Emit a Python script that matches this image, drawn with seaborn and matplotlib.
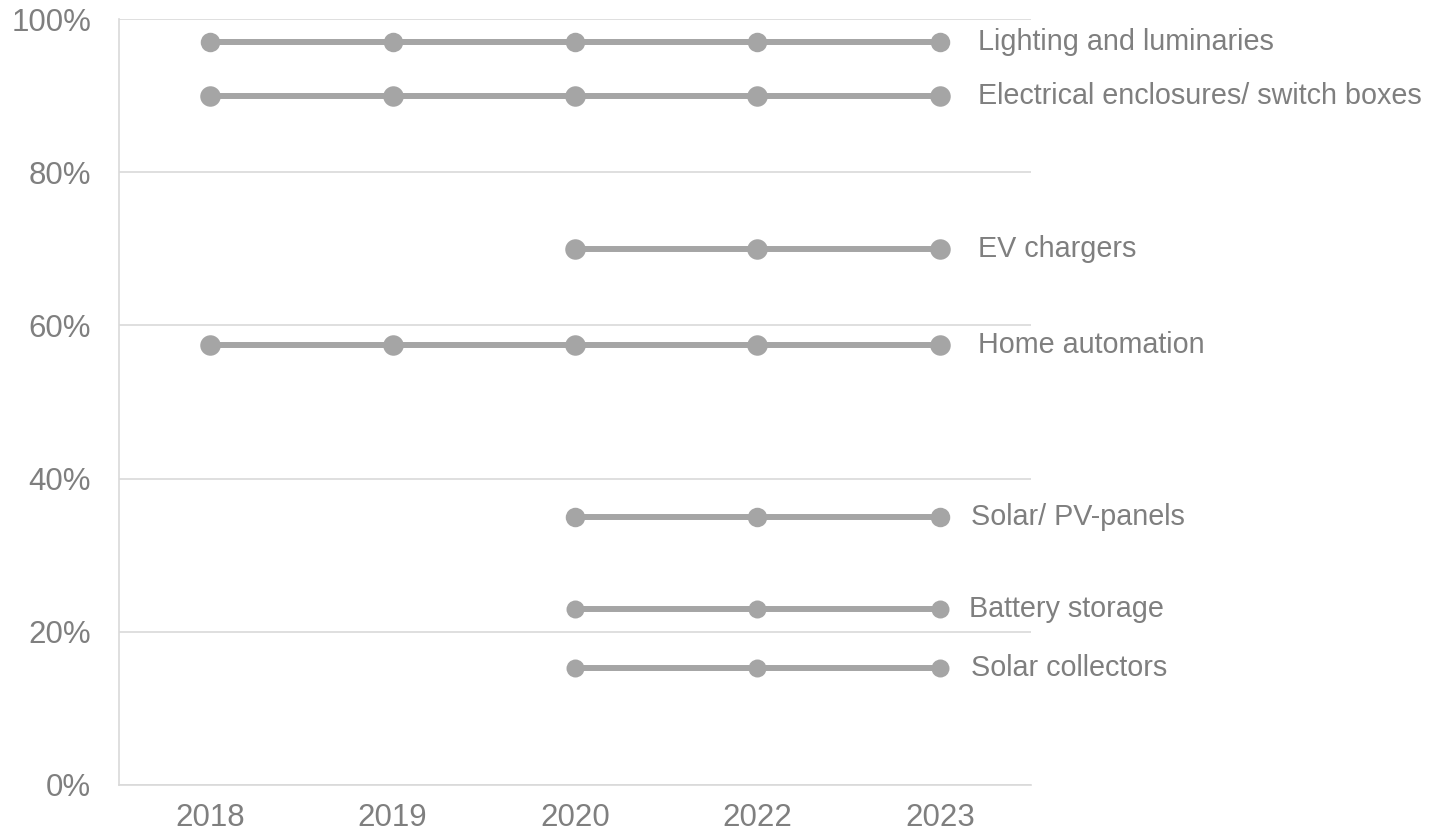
import matplotlib
matplotlib.use("Agg")
import matplotlib.pyplot as plt
import seaborn as sns
import pandas as pd
from matplotlib.ticker import FixedLocator, PercentFormatter

years = ["2018", "2019", "2020", "2022", "2023"]

series_names = [
    "Lighting and luminaries",
    "Electrical enclosures/ switch boxes",
    "EV chargers",
    "Home automation",
    "Solar/ PV-panels",
    "Battery storage",
    "Solar collectors",
]
lighting = [97, 97, 97, 97, 97]
enclosures = [90, 90, 90, 90, 90]
ev_chargers = [None, None, 70, 70, 70]
home_automation = [57.4, 57.4, 57.4, 57.4, 57.4]
solar_pv = [None, None, 35, 35, 35]
battery = [None, None, 23, 23, 23]
collectors = [None, None, 15.3, 15.3, 15.3]
all_values = [lighting, enclosures, ev_chargers, home_automation, solar_pv, battery, collectors]

rows = []
for name, vals in zip(series_names, all_values):
    for yr, v in zip(years, vals):
        if v is not None:
            rows.append({"series": name, "year": yr, "pos": years.index(yr), "value": v})
df = pd.DataFrame(rows)

sns.set_theme(style="white")
plt.rcParams["font.family"] = ["Liberation Sans", "DejaVu Sans"]

GRAY = "#A5A5A5"
TXT = "#7F7F7F"
GRID = "#D9D9D9"

fig = plt.figure(figsize=(14.35, 8.39), dpi=100)
ax = fig.add_axes([119 / 1435, 1 - 785 / 839, (1031 - 119) / 1435, (785 - 19) / 839])

# marker diameters (px)
msizes = {
    "Lighting and luminaries": 19.5,
    "Electrical enclosures/ switch boxes": 20.5,
    "EV chargers": 20.5,
    "Home automation": 20.5,
    "Solar/ PV-panels": 19.5,
    "Battery storage": 18,
    "Solar collectors": 18,
}
# label offsets (px)
label_dx = {
    "Lighting and luminaries": 38,
    "Electrical enclosures/ switch boxes": 38,
    "EV chargers": 38,
    "Home automation": 38,
    "Solar/ PV-panels": 31,
    "Battery storage": 29,
    "Solar collectors": 31,
}

for name in series_names:
    sub = df[df["series"] == name]
    sns.lineplot(data=sub, x="pos", y="value", ax=ax, color=GRAY, linewidth=4.3,
                 marker="o", markersize=msizes[name] * 0.72, markeredgewidth=0,
                 markerfacecolor=GRAY, zorder=3)
    last = sub.iloc[-1]
    ax.annotate(name, xy=(last["pos"], last["value"]), xytext=(label_dx[name] * 0.72, 0),
                textcoords="offset points", va="center", ha="left",
                fontsize=20.7, color=TXT, annotation_clip=False)

ax.set_xlim(-0.5, len(years) - 0.5)
ax.set_ylim(0, 100)
ax.set_xticks(range(len(years)))
ax.set_xticklabels(years)
ax.xaxis.set_minor_locator(FixedLocator([i + 0.5 for i in range(len(years))]))
ax.set_yticks([0, 20, 40, 60, 80, 100])
ax.yaxis.set_major_formatter(PercentFormatter(decimals=0))
ax.set_xlabel("")
ax.set_ylabel("")

ax.grid(axis="y", color=GRID, linewidth=1.2)
ax.grid(axis="x", visible=False)
ax.set_axisbelow(True)

for s in ["top", "right"]:
    ax.spines[s].set_visible(False)
ax.spines["left"].set_color(GRID)
ax.spines["bottom"].set_color(GRID)
ax.spines["left"].set_linewidth(1.2)
ax.spines["bottom"].set_linewidth(1.2)

ax.tick_params(axis="x", which="major", length=0, pad=13, labelsize=22.5, labelcolor=TXT)
ax.tick_params(axis="x", which="minor", direction="in", length=6, width=1.2, color=GRID)
ax.tick_params(axis="y", length=0, pad=20, labelsize=22.5, labelcolor=TXT)

leg = ax.get_legend()
if leg:
    leg.remove()

fig.savefig("out.png", dpi=100, facecolor="white")
